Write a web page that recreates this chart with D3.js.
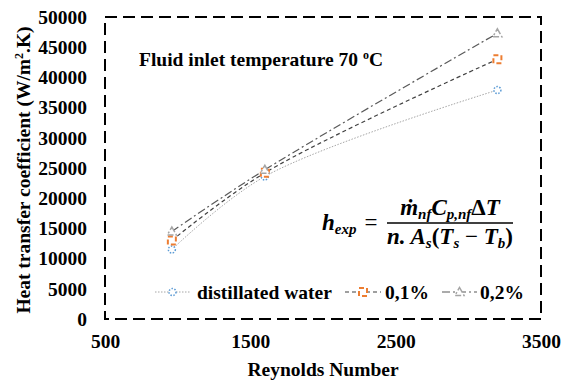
<!DOCTYPE html>
<html>
<head>
<meta charset="utf-8">
<script src="https://cdn.jsdelivr.net/npm/d3@7"></script>
<style>
  body { margin: 0; background: #fff; }
  svg text { font-family: 'Liberation Serif', 'Times New Roman', Times, serif; font-weight: bold; }
</style>
</head>
<body>
<div id="chart"></div>
<script>
// data
var reynolds = [960, 1600, 3200];
var water = [11500, 23600, 37900];
var nf01 = [13000, 24200, 43000];
var nf02 = [14500, 24700, 47300];
var xTicks = [500, 1500, 2500, 3500];
var yTicks = [0, 5000, 10000, 15000, 20000, 25000, 30000, 35000, 40000, 45000, 50000];

var W = 561, H = 383;
var mLeft = 105, mRight = 541, mTop = 17, mBottom = 319;
var serif = "'Liberation Serif', 'Times New Roman', Times, serif";

var svg = d3.select("#chart").append("svg")
    .attr("width", W)
    .attr("height", H)
    .attr("font-family", serif);

var x = d3.scaleLinear().domain([500, 3500]).range([mLeft, mRight]);
var y = d3.scaleLinear().domain([0, 50000]).range([mBottom, mTop]);

// dashed frame
svg.append("rect")
    .attr("x", mLeft).attr("y", mTop)
    .attr("width", mRight - mLeft).attr("height", mBottom - mTop)
    .attr("fill", "none")
    .attr("stroke", "#000")
    .attr("stroke-width", 2)
    .attr("stroke-dasharray", "12,6");

// axes, no lines only labels
var yAxis = svg.append("g")
    .attr("transform", "translate(" + (mLeft - 18) + ",0)")
    .call(d3.axisLeft(y).tickValues(yTicks).tickSize(0).tickPadding(0).tickFormat(d3.format("d")));
yAxis.attr("font-family", serif).attr("font-size", null);
yAxis.select(".domain").remove();
yAxis.selectAll("text")
    .style("font-size", "19.5px")
    .attr("fill", "#000");

var xAxis = svg.append("g")
    .attr("transform", "translate(0," + (mBottom + 15) + ")")
    .call(d3.axisBottom(x).tickValues(xTicks).tickSize(0).tickPadding(0).tickFormat(d3.format("d")));
xAxis.attr("font-family", serif).attr("font-size", null);
xAxis.select(".domain").remove();
xAxis.selectAll("text")
    .style("font-size", "19.5px")
    .attr("fill", "#000");

svg.append("text")
    .attr("x", (mLeft + mRight) / 2)
    .attr("y", 376)
    .attr("text-anchor", "middle")
    .style("font-size", "19.5px")
    .text("Reynolds Number");

var yt = svg.append("text")
    .attr("transform", "translate(30,170) rotate(-90)")
    .attr("text-anchor", "middle")
    .style("font-size", "19.5px");
yt.append("tspan").text("Heat transfer coefficient (W/m");
yt.append("tspan").attr("dy", -7).style("font-size", "12px").text("2");
yt.append("tspan").attr("dy", 7).text(".K)");

// annotation
var ann = svg.append("text")
    .attr("x", 139).attr("y", 66)
    .style("font-size", "19.5px");
ann.append("tspan").text("Fluid inlet temperature 70 ");
ann.append("tspan").attr("dy", -7).style("font-size", "12px").text("o");
ann.append("tspan").attr("dy", 7).text("C");

// series
var series = [
    { name: "distillated water", values: water, line: "#a6a6a6", dash: "1.5,1.5", width: 1, marker: "circle", color: "#5b9bd5" },
    { name: "0,1%", values: nf01, line: "#404040", dash: "4,3", width: 1.2, marker: "square", color: "#ed7d31" },
    { name: "0,2%", values: nf02, line: "#595959", dash: "8,3,2,3", width: 1.2, marker: "triangle", color: "#a5a5a5" }
];

var line = d3.line()
    .x(function (d) { return x(d[0]); })
    .y(function (d) { return y(d[1]); })
    .curve(d3.curveCatmullRom.alpha(0.5));

function drawMarker(g, type, cx, cy, color) {
    if (type === "circle") {
        g.append("circle").attr("cx", cx).attr("cy", cy).attr("r", 3.5)
            .attr("fill", "#fff").attr("stroke", color).attr("stroke-width", 1.5)
            .attr("stroke-dasharray", "1.5,1.5");
    } else if (type === "square") {
        g.append("rect").attr("x", cx - 4).attr("y", cy - 4).attr("width", 8).attr("height", 8)
            .attr("fill", "#fff").attr("stroke", color).attr("stroke-width", 2)
            .attr("stroke-dasharray", "5,3");
    } else {
        g.append("path")
            .attr("d", "M" + cx + "," + (cy - 4.5) + "L" + (cx + 4.5) + "," + (cy + 3.5) + "L" + (cx - 4.5) + "," + (cy + 3.5) + "Z")
            .attr("fill", "#fff").attr("stroke", color).attr("stroke-width", 1.5)
            .attr("stroke-dasharray", "6,2,2,2");
    }
}

series.forEach(function (s) {
    var pts = reynolds.map(function (r, i) { return [r, s.values[i]]; });
    svg.append("path")
        .datum(pts)
        .attr("d", line)
        .attr("fill", "none")
        .attr("stroke", s.line)
        .attr("stroke-width", s.width)
        .attr("stroke-dasharray", s.dash);
});
series.forEach(function (s) {
    var g = svg.append("g");
    reynolds.forEach(function (r, i) {
        drawMarker(g, s.marker, x(r), y(s.values[i]), s.color);
    });
});

// legend
var legendPos = [
    { x0: 155, x1: 190, tx: 197 },
    { x0: 345, x1: 381, tx: 385 },
    { x0: 442, x1: 477, tx: 480 }
];
var ly = 292;
series.forEach(function (s, i) {
    var p = legendPos[i];
    svg.append("line")
        .attr("x1", p.x0).attr("x2", p.x1).attr("y1", ly).attr("y2", ly)
        .attr("stroke", s.line).attr("stroke-width", s.width)
        .attr("stroke-dasharray", s.dash);
    drawMarker(svg.append("g"), s.marker, (p.x0 + p.x1) / 2, ly, s.color);
    svg.append("text")
        .attr("x", p.tx).attr("y", ly + 7)
        .style("font-size", "19.5px")
        .text(s.name);
});

// formula
var fm = svg.append("g").style("font-style", "italic");
var fs = "23px", sub = "15px";
var h = fm.append("text").attr("x", 322).attr("y", 230).style("font-size", fs);
h.append("tspan").text("h");
h.append("tspan").attr("dy", 4).style("font-size", sub).text("exp");
fm.append("text").attr("x", 371).attr("y", 230).attr("text-anchor", "middle")
    .style("font-size", fs).style("font-style", "normal").style("font-weight", "normal").text("=");
fm.append("line").attr("x1", 387).attr("x2", 513).attr("y1", 223).attr("y2", 223)
    .attr("stroke", "#000").attr("stroke-width", 1.3);
var num = fm.append("text").attr("x", 450).attr("y", 215).attr("text-anchor", "middle").style("font-size", fs);
num.append("tspan").text("\u1E41");
num.append("tspan").attr("dy", 4).style("font-size", sub).text("nf");
num.append("tspan").attr("dy", -4).text("C");
num.append("tspan").attr("dy", 4).style("font-size", sub).text("p,nf");
num.append("tspan").attr("dy", -4).style("font-style", "normal").text("\u0394");
num.append("tspan").text("T");
var den = fm.append("text").attr("x", 450).attr("y", 244).attr("text-anchor", "middle").style("font-size", fs);
den.append("tspan").text("n. A");
den.append("tspan").attr("dy", 4).style("font-size", sub).text("s");
den.append("tspan").attr("dy", -4).style("font-style", "normal").text("(");
den.append("tspan").text("T");
den.append("tspan").attr("dy", 4).style("font-size", sub).text("s");
den.append("tspan").attr("dy", -4).style("font-style", "normal").style("font-weight", "normal").text(" \u2212 ");
den.append("tspan").text("T");
den.append("tspan").attr("dy", 4).style("font-size", sub).text("b");
den.append("tspan").attr("dy", -4).style("font-style", "normal").text(")");
</script>
</body>
</html>
